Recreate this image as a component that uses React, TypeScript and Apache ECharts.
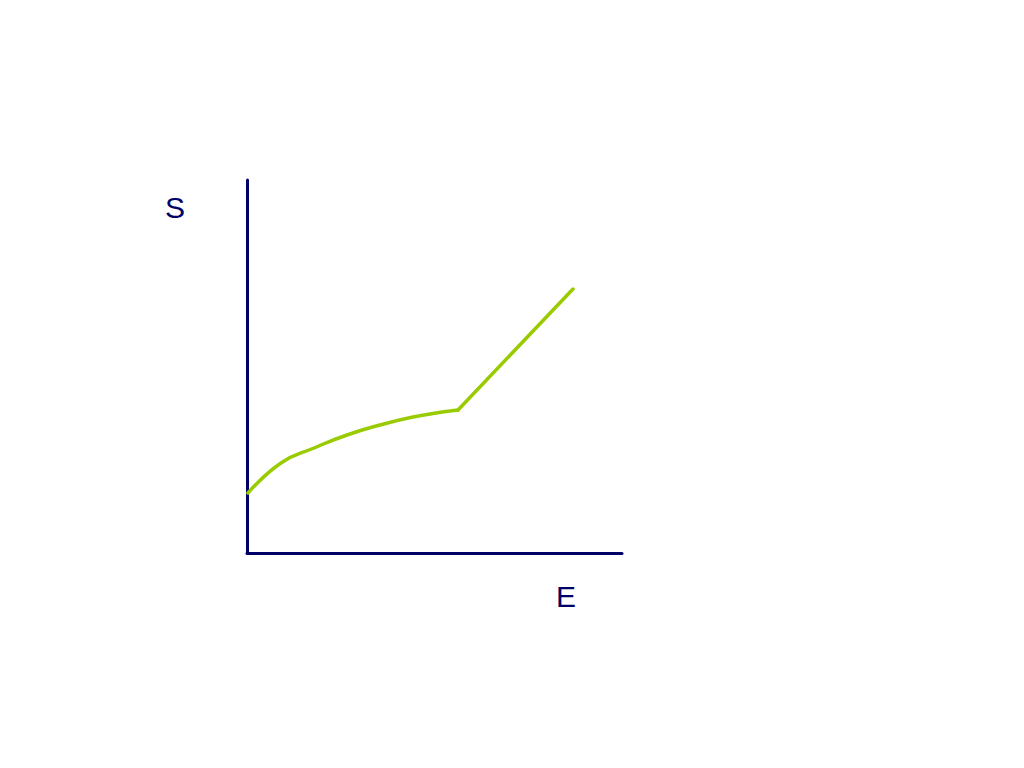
import { useEffect, useRef } from 'react'
import * as echarts from 'echarts'

// Curva côncava (E, S), até o ponto de quebra
const curvaE = [1, 34, 67, 100, 133, 166, 199, 211]
const curvaS = [60, 90, 105, 118, 128, 136, 141.5, 143]
// Trecho reto depois da quebra
const retaE = [211, 326]
const retaS = [143, 264]

const NAVY = '#000066'
const VERDE = '#99cc00'

export default function App() {
  const ref = useRef<HTMLDivElement>(null)

  useEffect(() => {
    if (!ref.current) return
    const chart = echarts.init(ref.current, null, { renderer: 'svg' })
    chart.setOption({
      animation: false,
      backgroundColor: '#ffffff',
      grid: { left: 247, top: 180, right: 402, bottom: 215 },
      xAxis: {
        type: 'value',
        min: 0,
        max: 375,
        axisLine: { show: true, lineStyle: { color: NAVY, width: 3 } },
        axisTick: { show: false },
        axisLabel: { show: false },
        splitLine: { show: false },
      },
      yAxis: {
        type: 'value',
        min: 0,
        max: 373,
        axisLine: { show: true, lineStyle: { color: NAVY, width: 3 } },
        axisTick: { show: false },
        axisLabel: { show: false },
        splitLine: { show: false },
      },
      graphic: [
        {
          type: 'text',
          x: 175,
          y: 207,
          style: {
            text: 'S',
            fill: NAVY,
            font: '30px "Liberation Sans", Arial, sans-serif',
            align: 'center',
            verticalAlign: 'middle',
          },
        },
        {
          type: 'text',
          x: 566,
          y: 596,
          style: {
            text: 'E',
            fill: NAVY,
            font: '30px "Liberation Sans", Arial, sans-serif',
            align: 'center',
            verticalAlign: 'middle',
          },
        },
      ],
      series: [
        {
          type: 'line',
          data: curvaE.map((e, i) => [e, curvaS[i]]),
          smooth: 0.5,
          symbol: 'none',
          lineStyle: { color: VERDE, width: 3.5, cap: 'round', join: 'round' },
        },
        {
          type: 'line',
          data: retaE.map((e, i) => [e, retaS[i]]),
          symbol: 'none',
          lineStyle: { color: VERDE, width: 3.5, cap: 'round' },
        },
      ],
    })
    return () => chart.dispose()
  }, [])

  return (
    <div
      ref={ref}
      style={{ position: 'fixed', left: 0, top: 0, width: 1024, height: 768 }}
    />
  )
}
